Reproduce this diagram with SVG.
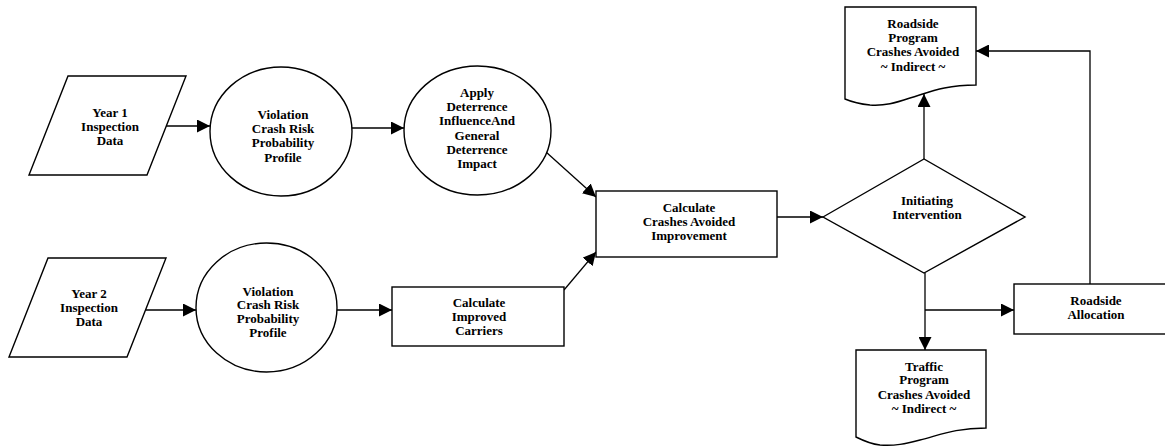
<svg xmlns="http://www.w3.org/2000/svg" width="1165" height="446" viewBox="0 0 1165 446">
<style>
.s{fill:#fff;stroke:#000;stroke-width:1.4}
.t{font-family:"Liberation Serif","Times New Roman",serif;font-weight:bold;font-size:13px;fill:#000;text-anchor:middle}
.c{fill:none;stroke:#000;stroke-width:1.3}
</style>
<defs>
<marker id="ah" markerUnits="userSpaceOnUse" markerWidth="13" markerHeight="13" refX="13" refY="6.5" orient="auto">
<path d="M0,0 L13,6.5 L0,13 Z" fill="#000"/>
</marker>
</defs>
<rect width="1165" height="446" fill="#fff"/>
<g id="connectors">
<line class="c" x1="166" y1="126" x2="210" y2="126" marker-end="url(#ah)"/>
<line class="c" x1="352" y1="128" x2="404" y2="128" marker-end="url(#ah)"/>
<line class="c" x1="546" y1="152" x2="596" y2="197" marker-end="url(#ah)"/>
<line class="c" x1="146" y1="310" x2="196" y2="310" marker-end="url(#ah)"/>
<line class="c" x1="337" y1="310" x2="392" y2="310" marker-end="url(#ah)"/>
<line class="c" x1="564" y1="290" x2="596" y2="252" marker-end="url(#ah)"/>
<line class="c" x1="777" y1="217" x2="823" y2="217" marker-end="url(#ah)"/>
<line class="c" x1="924" y1="159" x2="924" y2="94" marker-end="url(#ah)"/>
<line class="c" x1="925" y1="273" x2="925" y2="350" marker-end="url(#ah)"/>
<line class="c" x1="925" y1="310" x2="1014" y2="310" marker-end="url(#ah)"/>
<polyline class="c" points="1090,284 1090,51 976,51" marker-end="url(#ah)"/>
</g>
<g id="year1">
<polygon class="s" points="68,76 186,76 147,175 29,175"/>
<text class="t" x="110" y="116.5">Year 1</text>
<text class="t" x="110" y="130.5">Inspection</text>
<text class="t" x="110" y="144.5">Data</text>
</g>
<g id="profile1">
<ellipse class="s" cx="281" cy="131.5" rx="71" ry="64.5"/>
<text class="t" x="283" y="118.5">Violation</text>
<text class="t" x="283" y="132.5">Crash Risk</text>
<text class="t" x="283" y="147">Probability</text>
<text class="t" x="283" y="161.5">Profile</text>
</g>
<g id="deterrence">
<ellipse class="s" cx="477.5" cy="130.5" rx="73.5" ry="64.5"/>
<text class="t" x="477" y="96.5">Apply</text>
<text class="t" x="477" y="110.5">Deterrence</text>
<text class="t" x="477" y="125">InfluenceAnd</text>
<text class="t" x="477" y="139.5">General</text>
<text class="t" x="477" y="153.5">Deterrence</text>
<text class="t" x="477" y="167.5">Impact</text>
</g>
<g id="year2">
<polygon class="s" points="48,258 166,258 127,357 9,357"/>
<text class="t" x="89" y="297.5">Year 2</text>
<text class="t" x="89" y="311.5">Inspection</text>
<text class="t" x="89" y="325.5">Data</text>
</g>
<g id="profile2">
<ellipse class="s" cx="266.5" cy="307.5" rx="70.5" ry="64.5"/>
<text class="t" x="268" y="295.5">Violation</text>
<text class="t" x="268" y="309.3">Crash Risk</text>
<text class="t" x="268" y="323">Probability</text>
<text class="t" x="268" y="336.8">Profile</text>
</g>
<g id="improved">
<rect class="s" x="392" y="287" width="172" height="59"/>
<text class="t" x="479" y="307">Calculate</text>
<text class="t" x="479" y="321">Improved</text>
<text class="t" x="479" y="334.5">Carriers</text>
</g>
<g id="crashes">
<rect class="s" x="596" y="191" width="181" height="66"/>
<text class="t" x="689" y="211.5">Calculate</text>
<text class="t" x="689" y="225.5">Crashes Avoided</text>
<text class="t" x="689" y="239.5">Improvement</text>
</g>
<g id="intervention">
<polygon class="s" points="823,217 924,159 1025,217 924,273"/>
<text class="t" x="927" y="204.5">Initiating</text>
<text class="t" x="927" y="218.5">Intervention</text>
</g>
<g id="roadsideDoc">
<path class="s" d="M845,7 H976 V85 C945,85 930,92 910,98 C895,103 885,106 870,105 C860,104 852,102 845,99 Z"/>
<text class="t" x="913" y="27.5">Roadside</text>
<text class="t" x="913" y="41.5">Program</text>
<text class="t" x="913" y="56">Crashes Avoided</text>
<text class="t" x="913" y="70.5">~ Indirect ~</text>
</g>
<g id="trafficDoc">
<path class="s" d="M856,350 H986 V428 C955,428 940,435 920,440 C905,444 895,446 880,445 C870,444 862,440 856,437 Z"/>
<text class="t" x="924" y="370.5">Traffic</text>
<text class="t" x="924" y="384">Program</text>
<text class="t" x="924" y="398.5">Crashes Avoided</text>
<text class="t" x="924" y="412.5">~ Indirect ~</text>
</g>
<g id="allocation">
<rect class="s" x="1014" y="284" width="166" height="50"/>
<text class="t" x="1096" y="304.5">Roadside</text>
<text class="t" x="1096" y="318.5">Allocation</text>
</g>
</svg>
